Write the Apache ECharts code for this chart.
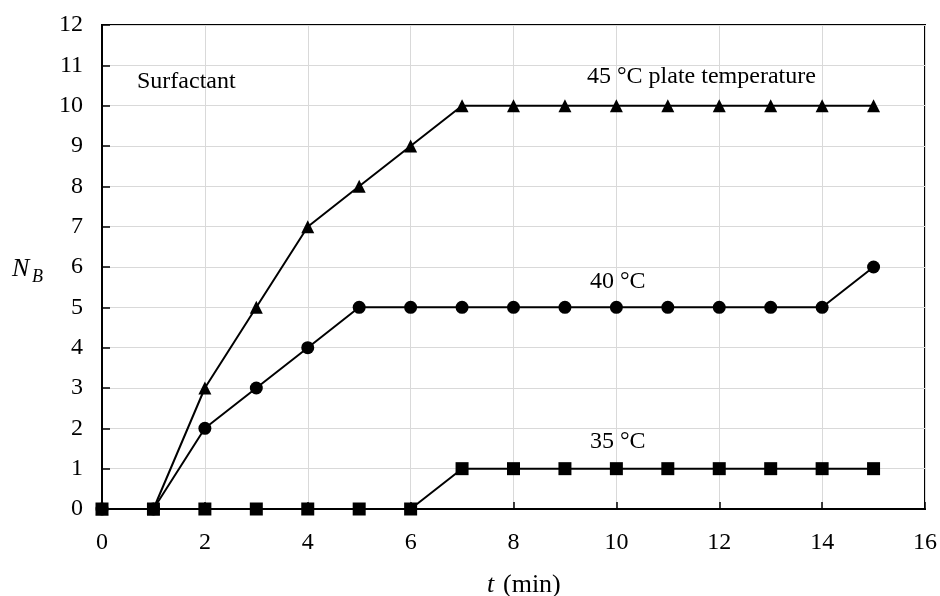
<!DOCTYPE html>
<html><head><meta charset="utf-8">
<script src="https://cdn.jsdelivr.net/npm/echarts@6/dist/echarts.min.js"></script>
<style>html,body{margin:0;padding:0;background:#fff}#c{width:940px;height:596px}</style>
</head><body><div id="c"></div>
<script>
const tValues = [0,1,2,3,4,5,6,7,8,9,10,11,12,13,14,15];
const nb45 = [0,0,3,5,7,8,9,10,10,10,10,10,10,10,10,10];
const nb40 = [0,0,2,3,4,5,5,5,5,5,5,5,5,5,5,6];
const nb35 = [0,0,0,0,0,0,0,1,1,1,1,1,1,1,1,1];
const xTicks = [0,2,4,6,8,10,12,14,16];
const yTicks = [0,1,2,3,4,5,6,7,8,9,10,11,12];

const FONT = 'Liberation Serif';
const chart = echarts.init(document.getElementById('c'));
function mk(vals, sym, size){
  return {type:'line', data: tValues.map((t,i)=>[t, vals[i]]), symbol: sym, symbolSize: size,
    showAllSymbol:true, lineStyle:{color:'#000', width:2}, itemStyle:{color:'#000'}, z: 3, animation:false};
}
function txt(x, y, s, size, italic){
  return {type:'text', x:x, y:y, z:10, style:{text:s, fontFamily:FONT, fontSize:size, fontStyle: italic?'italic':'normal', fill:'#000', verticalAlign:'middle', align:'left'}};
}
chart.setOption({
  animation:false,
  grid:{left:102, right:14, top:25, bottom:87, show:true, borderColor:'#000', borderWidth:2},
  xAxis:{type:'value', min:0, max:16, interval:2,
    axisLine:{show:true, onZero:false, lineStyle:{color:'#000', width:2}},
    axisTick:{show:true, inside:true, length:7, lineStyle:{color:'#000', width:1.5}},
    axisLabel:{color:'#000', fontFamily:FONT, fontSize:24, margin:22},
    splitLine:{show:true, lineStyle:{color:'#d9d9d9', width:1}}
  },
  yAxis:{type:'value', min:0, max:12, interval:1,
    axisLine:{show:true, onZero:false, lineStyle:{color:'#000', width:2}},
    axisTick:{show:true, inside:true, length:8, lineStyle:{color:'#000', width:1.5}},
    axisLabel:{color:'#000', fontFamily:FONT, fontSize:24, margin:19},
    splitLine:{show:true, lineStyle:{color:'#d9d9d9', width:1}}
  },
  graphic:[
    txt(12, 269, 'N', 26, true),
    txt(32, 277, 'B', 18, true),
    txt(487, 585, 't', 26, true),
    txt(503, 585, '(min)', 26, false),
    txt(137, 82, 'Surfactant', 24, false),
    txt(587, 77, '45 °C plate temperature', 24, false),
    txt(590, 282, '40 °C', 24, false),
    txt(590, 442, '35 °C', 24, false)
  ],
  series:[ mk(nb45,'triangle',13), mk(nb40,'circle',13), mk(nb35,'rect',13) ]
});
</script></body></html>
